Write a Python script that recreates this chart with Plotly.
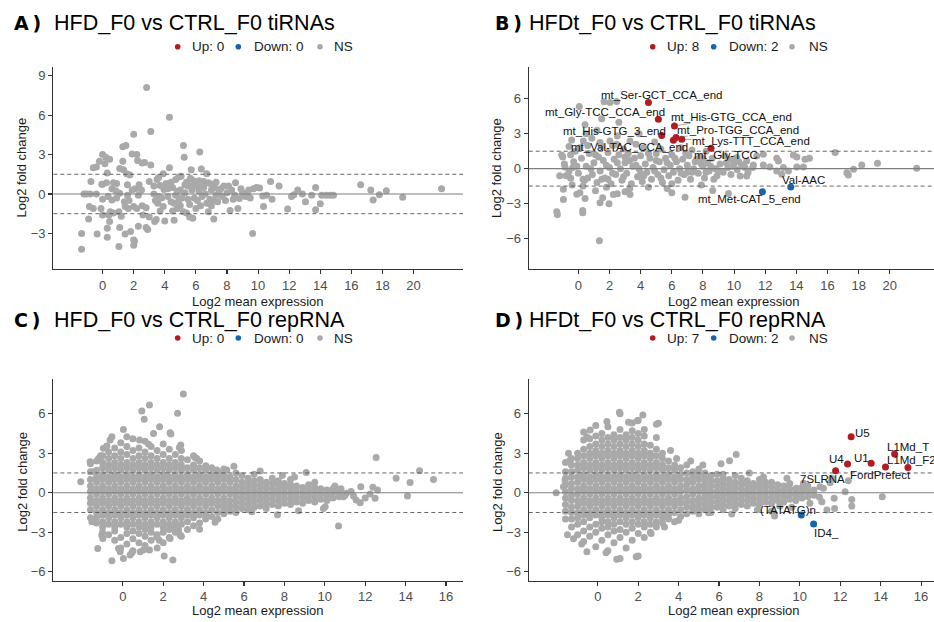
import plotly.graph_objects as go

W, H = 934, 622
UP_COL, DOWN_COL, NS_COL = "#B31B21", "#1465AC", "#A9A9A9"
SANS = "Liberation Sans, Arial, Helvetica, sans-serif"

# ---------------- Panel A : HFD_F0 vs CTRL_F0 tiRNAs (all NS) ----------------
a_ns_x = [-1.35, -1.35, -1.2, -1.05, -0.9, -0.85, -0.75, -0.6, -0.6, -0.4, -0.35, -0.8, -0.4, -0.2, -0.1, -0.05,
          0.0, 0.2, 0.15, 0.45, 0.3, 0.0, 0.25, 0.0, 0.0, 0.3, 0.3, 0.45, 0.4, 0.35, 0.6, 0.7, 0.9, 0.5, 0.7, 0.6, 0.85,
          1.05, 1.05, 1.1, 1.1, 1.1, 1.2, 1.3, 1.3, 1.35, 1.45, 1.5, 1.4, 1.45, 1.55, 1.6, 1.65, 1.75, 1.8, 1.9, 1.9, 1.6,
          2.0, 2.0, 2.0, 2.05, 2.0, 2.2, 2.25, 2.2, 2.3, 2.35, 2.3, 2.55, 2.55, 2.6, 2.7, 2.8, 2.8, 2.83, 2.9,
          3.0, 3.0, 3.1, 3.1, 3.3, 3.35, 3.45, 3.5, 3.6, 3.55, 3.7, 3.8, 3.9, 3.9, 4.0, 3.7, 3.4, 3.95,
          4.3, 4.3, 4.1, 4.2, 4.4, 4.5, 4.6, 4.5, 4.7, 4.8, 4.9, 4.9, 5.0, 5.05, 5.2, 5.25,
          5.2, 5.4, 5.3, 5.5, 5.6, 5.65, 5.7, 5.8, 5.85, 5.9, 5.6, 5.4, 4.7, 5.0, 5.75, 4.2,
          6.25, 6.35, 6.5, 6.8, 6.7, 6.8, 7.15, 6.1, 6.2, 6.4, 6.6, 6.9, 7.0, 7.2, 7.3, 7.4, 7.5, 7.7, 7.0, 6.3, 6.5, 7.8, 8.0, 6.0,
          8.2, 8.55, 8.7, 8.3, 8.5, 8.9, 9.0, 9.2, 9.4, 9.5, 9.65, 9.7, 9.9, 10.1, 10.3, 10.35, 10.55, 10.8, 10.9, 11.35, 8.8, 9.3,
          11.9, 12.15, 12.3, 12.55, 12.85, 13.05, 13.45, 13.7, 13.7, 14.0, 14.1, 14.4, 14.65, 14.85, 16.6, 17.25, 17.4, 17.8, 18.25, 19.3, 21.8,
          4.4, 4.6, 4.8, 5.1, 5.3, 5.5, 5.7, 6.0, 6.2, 6.4, 6.7, 6.9, 7.1, 7.3, 7.6, 7.9, 8.1, 8.4, 3.3, 3.6, 2.5, 2.1, 1.7, 0.9]
a_ns_y = [-3.0, -4.2, 0.0, 0.0, -1.9, -0.95, 0.95, -1.1, 2.0, 2.05, -3.05, 0.0, 0.0, 2.5, -1.1, 0.75,
          3.0, 2.8, 2.3, 2.65, 1.6, 0.75, 0.85, -0.4, -1.6, -3.3, -2.6, -2.1, -1.6, -0.2, -0.45, 0.85, 0.8, -1.35, -1.45, 0.4, 0.25,
          -1.35, -4.0, -2.55, 1.95, 0.05, -1.7, 2.5, 3.6, 1.85, -3.05, 3.7, -0.6, -0.95, 1.55, -0.1, -1.1, 1.45, -2.85, 3.05, 0.3, 0.7,
          4.55, -3.5, -3.9, -3.6, -0.95, 3.0, 2.55, -1.1, -2.45, 0.7, -0.1, 2.35, -0.9, -1.6, 2.4, -2.55, -1.05, 8.1, -2.7,
          -1.75, 0.95, 4.75, 2.2, 0.0, -2.1, -1.95, 1.1, 1.25, -0.7, 0.65, -0.3, 1.55, -0.95, -2.05, -1.3, -0.5, 0.35,
          5.85, 2.0, 0.8, -0.2, -0.6, -1.3, -2.0, 0.5, 1.1, 0.2, 1.3, -0.5, -0.9, 1.35, 3.7, 2.8,
          -1.35, -1.45, 0.1, 0.6, -1.75, 1.2, 1.85, -1.85, 1.0, -0.3, -0.8, 0.9, -0.1, 0.3, 0.3, 0.4,
          3.2, 1.9, 0.95, 0.85, 1.55, -1.35, -1.9, -0.5, 0.2, -0.2, 0.0, -0.4, 0.3, 0.5, -0.1, -0.6, 0.2, -0.2, -0.9, -0.9, 0.5, 0.6, 0.1, 0.6,
          -1.25, 0.85, -1.1, 0.3, -0.1, 0.4, 0.1, -0.2, 0.3, -0.3, -3.0, 0.4, 0.5, 0.45, -0.15, -0.95, -0.1, 0.95, -0.4, 0.6, -0.35, 0.05,
          -1.15, -0.2, -0.05, 0.3, 0.0, -0.6, -0.1, 0.5, -1.2, -0.75, -0.1, -0.1, -0.1, -0.1, 0.7, 0.3, -0.45, -0.05, 0.25, -0.25, 0.4,
          0.9, -0.7, -1.1, -0.3, 0.7, -0.4, 0.6, -1.1, 1.0, 0.6, -0.7, 0.8, -0.5, 0.9, 0.4, -0.5, 0.6, -0.4, 0.6, -0.2, 0.3, 0.4, -0.5, -0.3]

# ---------------- Panel B : HFDt_F0 vs CTRL_F0 tiRNAs ----------------
b_ns_x = [0.06, 1.65, 2.03, 2.46, 0.43, 1.5, 2.6, -0.43, 0.32, 0.86, 1.39, 2.03, 2.46, 3.32,
          -1.07, -0.86, -0.36, -0.64, -0.49, -0.96, -0.96, -1.39, -1.35, 0.28, 0.28, -0.1, 0.1, 0.43, 1.35, 1.39, 1.56, 1.97, 2.25, 2.5, 3.0, 3.32,
          6.0, 6.85, 8.63, 9.64, 10.39, 10.81, 9.96, 10.6, 11.24, 11.88, 12.3, 9.74, 10.17, 10.81, 12.74, 12.85, 13.17, 13.49, 12.74, 13.06,
          13.81, 14.03, 14.03, 14.45, 14.56, 14.84, 16.49, 17.24, 17.34, 17.67, 18.2, 19.21, 21.73, 11.46, 11.88,
          -0.9, -0.6, -0.3, 0.0, 0.2, 0.4, 0.5, 0.7, 0.9, 1.0, 1.2, 1.3, 1.4, 1.6, 1.7, 1.9, 2.0, 2.1, 2.3, 2.4,
          2.6, 2.7, 2.8, 3.0, 3.1, 3.2, 3.4, 3.5, 3.6, 3.8, 3.9, 4.0, 4.1, 4.3, 4.4, 4.6, 4.7, 4.8, 5.0, 5.1,
          5.2, 5.4, 5.5, 5.6, 5.8, 5.9, 6.0, 6.1, 6.3, 6.4, 6.5, 6.7, 6.8, 7.0, 7.1, 7.2, 7.4, 7.5, 7.7, 7.8,
          8.0, 8.1, 8.3, 8.4, 8.6, 8.8, 8.9, 9.1, 9.3, 9.4, 9.6, 9.8, 10.0, 10.2, 10.5, 10.9, 11.2,
          0.1, 0.6, 1.1, 1.5, 1.8, 2.2, 2.9, 3.3, 3.7, 4.2, 4.5, 5.3, 5.7, 6.6, 7.3, 7.9, 8.2, 0.3, -0.4, -0.2, 4.9, 2.5, 3.9, 1.2, 0.5, -0.6, -1.2, -1.0,
          -0.8, -0.5, -0.1, 0.3, 0.8, 1.1, 1.5, 1.8, 2.2, 2.5, 2.9, 3.3, 3.7, 4.2, 4.5, 4.9, 5.3, 5.7, 6.2, 6.6,
          6.9, 7.3, 7.6, 7.9, 8.2, 8.5, 8.7, 9.0, 9.5, 9.9, 10.3, 10.7, 0.6, 1.9, 3.0, 4.0, 5.0, 6.0, 7.0, 8.0]
b_ns_y = [5.35, 5.75, 5.7, 5.78, 3.77, 4.3, 4.0, 2.47, 2.39, 2.62, 2.24, 2.39, 2.1, 2.39,
          1.18, 0.14, 0.09, -0.63, -0.83, -1.78, -2.65, -3.71, -3.94, -3.6, -3.8, -2.2, -2.07, -2.56, -6.19, -2.94, -2.5, -3.02, -2.22, -2.16, -1.99, -2.22,
          -2.07, -2.45, -1.87, -2.13, -0.63, -0.63, 0.32, 0.32, 0.32, 0.32, 0.14, 0.81, 0.95, 0.66, 0.89, 0.66, 0.09, -0.2, -0.2, -0.49,
          1.18, 1.0, 0.14, 0.14, 0.81, 0.89, 1.38, -0.35, -0.55, -0.06, 0.32, 0.46, 0.03, 1.09, 1.24,
          0.4, -0.2, 0.6, -0.4, 0.9, -1.0, 0.2, 1.3, -0.5, 0.5, -1.2, 1.0, -0.2, 0.7, -0.8, 1.4, 0.1, -1.3, 0.8, -0.5,
          1.2, 0.0, -1.0, 0.5, -0.4, 1.3, -1.3, 0.2, 0.9, -0.7, 0.0, 1.1, -1.1, 0.4, -0.3, 0.9, -0.9, 0.1, 1.3, -0.5,
          0.6, -1.2, -0.1, 0.9, -0.6, 0.3, 1.2, -0.3, 0.6, -1.0, 0.0, 0.8, -0.5, 0.3, 1.1, -0.9, 0.0, 0.6, -0.4, 1.0,
          0.2, -0.8, 0.5, -0.2, 0.9, 0.0, -0.6, 0.4, -0.3, 1.1, 0.1, -0.5, 0.6, -0.1, 0.3, -0.3, 0.1,
          1.8, 2.0, -1.9, 1.9, -1.6, 2.0, 1.7, -1.7, 2.1, 1.8, -1.6, 1.7, -1.7, 1.8, 1.6, -1.4, 1.5, -1.5, -1.4, 1.5, 2.3, 2.8, 3.0, 3.3, 3.0, 1.9, -0.6, 1.0,
          -0.6, 1.2, 0.2, -0.9, 0.0, 1.2, -0.9, 0.3, -0.4, 0.5, -0.7, 0.7, 0.3, -0.6, 1.3, -0.2, -0.8, 0.5, 0.9, -0.4,
          1.3, -0.3, 0.8, 0.4, -0.3, 0.2, -0.9, -0.2, 0.5, 0.2, 0.6, 0.1, -0.8, -0.9, 1.0, -0.4, 0.7, -1.3, -0.3, 0.9]

b_up_names = ["mt_Ser-GCT_CCA_end", "mt_Gly-TCC_CCA_end", "mt_His-GTG_CCA_end", "mt_His-GTG_3_end",
              "mt_Val-TAC_CCA_end", "mt_Pro-TGG_CCA_end", "mt_Lys-TTT_CCA_end", "mt_Gly-TCC"]
b_up_x = [4.50, 5.14, 6.17, 5.35, 6.10, 6.27, 6.64, 8.52]
b_up_y = [5.70, 4.26, 3.68, 2.85, 2.45, 2.68, 2.53, 1.76]
b_down_names = ["mt_Met-CAT_5_end", "Val-AAC"]
b_down_x = [11.82, 13.64]
b_down_y = [-1.99, -1.58]

# ---------------- Panel C : HFD_F0 vs CTRL_F0 repRNA (all NS) ----------------
c_col_x = [-1.6, -1.3, -1.0, -0.7, -0.4, -0.1, 0.2, 0.5, 0.8, 1.1, 1.4, 1.7, 2.0, 2.3, 2.6, 2.9, 3.2, 3.5, 3.8, 4.1,
           4.4, 4.7, 5.0, 5.3, 5.6, 5.9, 6.2, 6.5, 6.8, 7.1, 7.4, 7.7, 8.0, 8.3, 8.6, 8.9, 9.2, 9.5, 9.8, 10.1, 10.4, 10.7, 11.0]
c_col_y = [
    [-1.9, -1.3, -0.8, -0.4, 0.1, 0.5, 1.0, 1.6, 2.2],
    [-2.3, -1.9, -1.5, -1.0, -0.6, -0.1, 0.3, 0.8, 1.2, 1.7, 2.4],
    [-3.0, -2.6, -2.2, -1.7, -1.3, -0.8, -0.4, 0.1, 0.5, 1.0, 1.4, 1.9, 2.3, 2.8],
    [-3.2, -2.4, -1.9, -1.5, -1.0, -0.6, -0.1, 0.3, 0.8, 1.2, 1.7, 2.1, 2.6, 3.1],
    [-3.6, -2.9, -2.6, -2.2, -1.7, -1.3, -0.8, -0.4, 0.1, 0.5, 1.0, 1.4, 1.9, 2.3, 2.8, 3.4],
    [-4.2, -3.4, -2.4, -1.9, -1.5, -1.0, -0.6, -0.1, 0.3, 0.8, 1.2, 1.7, 2.1, 2.6, 3.1, 3.8],
    [-3.9, -3.1, -2.6, -2.2, -1.7, -1.3, -0.8, -0.4, 0.1, 0.5, 1.0, 1.4, 1.9, 2.3, 2.9, 3.5],
    [-4.4, -3.5, -2.9, -2.4, -1.9, -1.5, -1.0, -0.6, -0.1, 0.3, 0.8, 1.2, 1.7, 2.1, 2.6, 3.2, 4.1],
    [-3.8, -3.1, -2.6, -2.2, -1.7, -1.3, -0.8, -0.4, 0.1, 0.5, 1.0, 1.4, 1.9, 2.3, 2.8, 3.4],
    [-4.0, -3.3, -2.8, -2.4, -1.9, -1.5, -1.0, -0.6, -0.1, 0.3, 0.8, 1.2, 1.7, 2.1, 2.6, 3.1, 3.9],
    [-3.6, -3.0, -2.6, -2.2, -1.7, -1.3, -0.8, -0.4, 0.1, 0.5, 1.0, 1.4, 1.9, 2.3, 2.8, 3.5],
    [-4.2, -3.2, -2.4, -1.9, -1.5, -1.0, -0.6, -0.1, 0.3, 0.8, 1.2, 1.7, 2.1, 2.6, 3.2],
    [-3.8, -3.0, -2.6, -2.2, -1.7, -1.3, -0.8, -0.4, 0.1, 0.5, 1.0, 1.4, 1.9, 2.3, 2.9, 3.7],
    [-3.4, -2.8, -2.4, -1.9, -1.5, -1.0, -0.6, -0.1, 0.3, 0.8, 1.2, 1.7, 2.1, 2.6, 3.3],
    [-3.0, -2.6, -2.2, -1.7, -1.3, -0.8, -0.4, 0.1, 0.5, 1.0, 1.4, 1.9, 2.3, 2.9],
    [-3.3, -2.4, -1.9, -1.5, -1.0, -0.6, -0.1, 0.3, 0.8, 1.2, 1.7, 2.1, 2.6, 3.2],
    [-2.8, -2.2, -1.7, -1.3, -0.8, -0.4, 0.1, 0.5, 1.0, 1.4, 1.9, 2.5],
    [-2.5, -1.9, -1.5, -1.0, -0.6, -0.1, 0.3, 0.8, 1.2, 1.7, 2.1, 2.8],
    [-2.3, -1.7, -1.3, -0.8, -0.4, 0.1, 0.5, 1.0, 1.4, 1.9, 2.4],
    [-2.0, -1.5, -1.0, -0.6, -0.1, 0.3, 0.8, 1.2, 1.7],
    [-1.8, -1.3, -0.8, -0.4, 0.1, 0.5, 1.0, 1.4, 1.9],
    [-2.0, -1.5, -1.0, -0.6, -0.1, 0.3, 0.8, 1.2, 1.6],
    [-1.6, -1.2, -0.8, -0.4, 0.1, 0.5, 1.0, 1.4, 1.8],
    [-1.4, -1.0, -0.6, -0.1, 0.3, 0.8, 1.2],
    [-1.5, -1.1, -0.7, -0.3, 0.1, 0.5, 1.0, 1.5],
    [-1.2, -0.8, -0.4, 0.0, 0.4, 0.8, 1.3],
    [-1.3, -0.9, -0.5, -0.1, 0.3, 0.7, 1.1],
    [-1.1, -0.7, -0.3, 0.1, 0.5, 0.9, 1.4],
    [-1.0, -0.6, -0.2, 0.2, 0.6, 1.0],
    [-1.2, -0.8, -0.4, 0.0, 0.4, 0.8],
    [-0.9, -0.5, -0.1, 0.3, 0.7, 1.1],
    [-1.0, -0.6, -0.2, 0.2, 0.6, 0.9],
    [-0.8, -0.4, 0.0, 0.4, 0.7],
    [-0.9, -0.5, -0.1, 0.3, 0.6, 1.0],
    [-0.7, -0.3, 0.1, 0.5],
    [-0.8, -0.4, 0.0, 0.4],
    [-0.6, -0.2, 0.2, 0.6],
    [-0.7, -0.3, 0.1, 0.4],
    [-0.5, -0.1, 0.3],
    [-0.6, -0.2, 0.2],
    [-0.4, 0.0, 0.3],
    [-0.3, 0.1],
    [-0.2],
]
c_out_x = [3.0, 1.32, 0.94, 1.06, 2.71, 1.82, 2.34, 2.38, 1.52, 0.03, 0.2, 0.83, 1.27, -0.54, -0.63, 2.87, 2.8, -0.96, -0.79,
           12.54, 14.69, 13.53, 14.22, 15.38, 11.78, 12.38, 12.61, 12.24, 12.49, 14.09, 11.42, 11.55, 11.75, 11.06, 10.92,
           10.68, 10.02, 9.93, 8.7, 7.66, 6.39, 6.8, 9.08, 5.15, 4.65, 4.11, 3.66, 3.58, 4.57, 4.13, 3.8, 2.84, 2.76, 2.48,
           2.05, 2.34, 1.68, 1.8, 1.32, 1.02, 0.86, 0.45, 0.36, 0.03, -0.21, -0.13, -0.54, -1.24, -0.99, -1.04, -1.53,
           -2.08, -1.45, -1.62, -1.2, -1.1, 10.5, 10.8, 9.5, 8.5, 7.9, 5.5, 12.0, 11.3]
c_out_y = [7.5, 6.66, 6.2, 5.57, 6.03, 5.0, 4.56, 4.46, 4.5, 4.8, 4.25, 4.0, 3.7, 4.25, 4.0, 3.62, 3.44, 3.37, 3.54,
           2.68, 1.67, 1.09, 0.78, 1.01, 0.46, 0.41, 0.2, -0.1, -0.43, -0.25, -0.25, -0.56, -0.76, -0.05, -0.3,
           -2.53, -1.06, -1.19, -1.37, -1.67, -1.44, 1.65, 1.54, 1.72, 1.72, 2.05, 2.6, 2.68, -2.25, -1.82, -2.78, -3.22, -2.84, -5.11,
           -4.81, -3.47, -3.35, -3.6, -4.35, -4.35, -4.48, -4.56, -4.73, -4.99, -4.23, -4.48, -5.16, -4.23, -3.47, -3.22, -2.2,
           0.84, 1.6, 2.35, 2.6, 2.8, 0.5, 0.3, 0.8, 1.2, 1.3, 2.0, -0.4, 0.1]

# ---------------- Panel D : HFDt_F0 vs CTRL_F0 repRNA ----------------
d_col_x = [-1.6, -1.3, -1.0, -0.7, -0.4, -0.1, 0.2, 0.5, 0.8, 1.1, 1.4, 1.7, 2.0, 2.3, 2.6, 2.9, 3.2, 3.5, 3.8, 4.1,
           4.4, 4.7, 5.0, 5.3, 5.6, 5.9, 6.2, 6.5, 6.8, 7.1, 7.4, 7.7, 8.0, 8.3, 8.6, 8.9, 9.2, 9.5, 9.8, 10.1, 10.4, 10.7]
d_col_y = [
    [-2.0, -1.4, -0.9, -0.4, 0.1, 0.6, 1.1, 1.6, 2.3],
    [-2.6, -2.0, -1.5, -1.1, -0.6, -0.2, 0.3, 0.7, 1.2, 1.6, 2.1, 2.6],
    [-3.2, -2.4, -1.9, -1.5, -1.0, -0.6, -0.1, 0.3, 0.8, 1.2, 1.7, 2.1, 2.6, 3.0],
    [-3.7, -2.9, -2.2, -1.7, -1.3, -0.8, -0.4, 0.1, 0.5, 1.0, 1.4, 1.9, 2.3, 2.8, 3.3, 4.0, 4.6],
    [-3.3, -2.6, -1.9, -1.5, -1.0, -0.6, -0.1, 0.3, 0.8, 1.2, 1.7, 2.1, 2.6, 3.0, 3.5, 4.1],
    [-4.1, -3.0, -2.4, -1.7, -1.3, -0.8, -0.4, 0.1, 0.5, 1.0, 1.4, 1.9, 2.3, 2.8, 3.2, 3.7, 4.3, 5.1],
    [-3.6, -2.7, -2.2, -1.9, -1.5, -1.0, -0.6, -0.1, 0.3, 0.8, 1.2, 1.7, 2.1, 2.6, 3.0, 3.5, 4.0, 4.5],
    [-4.4, -3.2, -2.6, -2.2, -1.7, -1.3, -0.8, -0.4, 0.1, 0.5, 1.0, 1.4, 1.9, 2.3, 2.8, 3.2, 3.7, 4.2, 5.0],
    [-3.8, -2.9, -2.4, -1.9, -1.5, -1.0, -0.6, -0.1, 0.3, 0.8, 1.2, 1.7, 2.1, 2.6, 3.0, 3.5, 4.0, 4.4],
    [-5.0, -3.4, -2.8, -2.2, -1.7, -1.3, -0.8, -0.4, 0.1, 0.5, 1.0, 1.4, 1.9, 2.3, 2.8, 3.2, 3.7, 4.2, 4.8, 6.0],
    [-4.2, -3.0, -2.4, -1.9, -1.5, -1.0, -0.6, -0.1, 0.3, 0.8, 1.2, 1.7, 2.1, 2.6, 3.0, 3.5, 4.0, 4.4],
    [-3.6, -2.7, -2.2, -1.7, -1.3, -0.8, -0.4, 0.1, 0.5, 1.0, 1.4, 1.9, 2.3, 2.8, 3.2, 3.7, 4.2, 4.7, 5.3],
    [-4.8, -3.1, -2.4, -1.9, -1.5, -1.0, -0.6, -0.1, 0.3, 0.8, 1.2, 1.7, 2.1, 2.6, 3.0, 3.5, 4.0, 4.5, 5.5],
    [-3.4, -2.6, -2.2, -1.7, -1.3, -0.8, -0.4, 0.1, 0.5, 1.0, 1.4, 1.9, 2.3, 2.8, 3.2, 3.7, 4.3, 4.8],
    [-3.0, -2.4, -1.9, -1.5, -1.0, -0.6, -0.1, 0.3, 0.8, 1.2, 1.7, 2.1, 2.6, 3.0, 3.6],
    [-2.6, -2.2, -1.7, -1.3, -0.8, -0.4, 0.1, 0.5, 1.0, 1.4, 1.9, 2.3, 2.8, 3.3, 4.2, 5.2],
    [-2.3, -1.9, -1.5, -1.0, -0.6, -0.1, 0.3, 0.8, 1.2, 1.7, 2.1, 2.6, 3.0],
    [-2.0, -1.7, -1.3, -0.8, -0.4, 0.1, 0.5, 1.0, 1.4, 1.9, 2.4],
    [-2.2, -1.5, -1.0, -0.6, -0.1, 0.3, 0.8, 1.2, 1.7, 2.1],
    [-1.8, -1.3, -0.8, -0.4, 0.1, 0.5, 1.0, 1.4, 1.9],
    [-1.6, -1.1, -0.7, -0.3, 0.2, 0.6, 1.0, 1.5, 2.1],
    [-1.4, -1.0, -0.6, -0.1, 0.3, 0.8, 1.2, 1.6],
    [-1.6, -1.2, -0.8, -0.4, 0.1, 0.5, 1.0, 1.4, 1.8],
    [-1.3, -0.9, -0.5, -0.1, 0.3, 0.7, 1.1, 1.5],
    [-1.5, -1.1, -0.7, -0.3, 0.1, 0.5, 0.9, 1.3],
    [-1.1, -0.7, -0.3, 0.1, 0.5, 0.9, 1.4],
    [-1.3, -0.9, -0.5, -0.1, 0.3, 0.7, 1.1, 1.4],
    [-1.0, -0.6, -0.2, 0.2, 0.6, 1.0],
    [-1.2, -0.8, -0.4, 0.0, 0.4, 0.8, 1.3],
    [-0.9, -0.5, -0.1, 0.3, 0.7, 1.1],
    [-1.0, -0.6, -0.2, 0.2, 0.6, 0.9],
    [-0.8, -0.4, 0.0, 0.4, 0.7],
    [-0.9, -0.5, -0.1, 0.3, 0.6, 1.0],
    [-0.7, -0.3, 0.1, 0.5, 0.8],
    [-0.8, -0.4, 0.0, 0.4, 0.8],
    [-0.6, -0.2, 0.2, 0.6],
    [-0.7, -0.3, 0.1, 0.5],
    [-0.5, -0.1, 0.3, 0.7],
    [-0.6, -0.2, 0.2],
    [-0.4, 0.0, 0.4],
    [-0.3, 0.1, 0.5],
    [-0.2, 0.2],
]
d_out_x = [1.07, 2.23, 3.0, 1.52, 1.96, 0.45, -0.55, -0.38, 6.85, 6.52, 6.1, 9.36, 9.82, 10.26, 10.18, 11.0, 11.17,
           10.97, 11.09, 11.7, 11.72, 11.34, 12.24, 12.57, 12.57, 14.08, 11.5, 11.58, 12.4, 8.75, 8.6, 7.9, 6.63, 5.48,
           2.64, 1.9, 0.94, 0.41, -0.54, -0.8, -1.2, -1.5, -2.06, -1.7, -1.62, -1.45, -1.37, 3.3, 4.0, 4.6, 5.2, 7.5,
           8.2, 9.0, 9.6, 10.5, 3.6, 3.9]
d_out_y = [6.1, 5.9, 5.27, 5.34, 5.47, 5.4, 4.25, 4.76, 2.91, 2.43, 2.2, 1.09, 0.33, 0.33, 0.71, 0.46, 0.33,
           -0.35, -0.68, -0.43, -1.19, -1.32, 0.08, -0.51, -1.01, -0.3, 0.76, 1.09, 0.9, -1.77, -1.4, -1.3, -1.62, -1.52,
           -3.09, -4.86, -5.06, -4.56, -4.48, -3.9, -3.5, -3.2, 0.0, 0.46, 0.96, 2.99, 2.48, -2.6, -2.1, 2.4, 2.1, 1.5,
           1.2, -1.0, -1.1, -0.8, 3.2, 2.6]

d_up_names = ["U5", "L1Md_T", "U4", "U1", "L1Md_F2", "FordPrefect", "7SLRNA"]
d_up_x = [12.54, 14.69, 12.36, 13.53, 15.35, 14.24, 11.77]
d_up_y = [4.25, 2.94, 2.18, 2.23, 1.92, 1.95, 1.67]
d_down_names = ["(TATATG)n", "ID4_"]
d_down_x = [10.07, 10.68]
d_down_y = [-1.70, -2.38]

titles = ["HFD_F0 vs CTRL_F0 tiRNAs", "HFDt_F0 vs CTRL_F0 tiRNAs",
          "HFD_F0 vs CTRL_F0 repRNA", "HFDt_F0 vs CTRL_F0 repRNA"]
tags = ["A", "B", "C", "D"]
up_counts = [0, 8, 0, 7]
down_counts = [0, 2, 0, 2]
tick_x_top = [0, 2, 4, 6, 8, 10, 12, 14, 16, 18, 20]
tick_x_bottom = [0, 2, 4, 6, 8, 10, 12, 14, 16]
tick_y_a = [-3, 0, 3, 6, 9]
tick_y_other = [-6, -3, 0, 3, 6]
fc_cut = 1.5


def flat(cols_x, cols_y):
    xs, ys = [], []
    for x, col in zip(cols_x, cols_y):
        for y in col:
            xs.append(x)
            ys.append(y)
    return xs, ys


c_core_x, c_core_y = flat(c_col_x, c_col_y)
d_core_x, d_core_y = flat(d_col_x, d_col_y)


def px(v):
    return v / W


def py(v):
    return 1 - v / H


fig = go.Figure()


def pts(xs, ys, col, xa, ya):
    fig.add_trace(go.Scatter(x=xs, y=ys, mode="markers", xaxis=xa, yaxis=ya,
                             marker=dict(color=col, size=7, line=dict(width=0)),
                             showlegend=False, hoverinfo="skip"))


pts(a_ns_x, a_ns_y, NS_COL, "x", "y")
pts(b_ns_x, b_ns_y, NS_COL, "x2", "y2")
pts(b_up_x, b_up_y, UP_COL, "x2", "y2")
pts(b_down_x, b_down_y, DOWN_COL, "x2", "y2")
pts(c_core_x + c_out_x, c_core_y + c_out_y, NS_COL, "x3", "y3")
pts(d_core_x + d_out_x, d_core_y + d_out_y, NS_COL, "x4", "y4")
pts(d_up_x, d_up_y, UP_COL, "x4", "y4")
pts(d_down_x, d_down_y, DOWN_COL, "x4", "y4")

# panel geometry (pixels)
left_x = [(53.3, 463.0), (528.7, 934.0)]
top_y = [(66.7, 269.0), (379.3, 580.7)]
xranges = [[-3.17, 23.18], [-3.19, 22.84], [-3.44, 16.84], [-3.42, 16.64]]
yranges = [[-5.71, 9.69], [-8.63, 8.77], [-6.68, 8.61], [-6.68, 8.61]]
xticks = [tick_x_top, tick_x_top, tick_x_bottom, tick_x_bottom]
yticks = [tick_y_a, tick_y_other, tick_y_other, tick_y_other]

ax_common = dict(showline=True, linecolor="#333333", linewidth=1.1, ticks="outside", ticklen=4,
                 tickcolor="#333333", tickwidth=1.1, showgrid=False, zeroline=False, automargin=False,
                 tickfont=dict(family=SANS, size=13, color="#4D4D4D"), fixedrange=True)

layout_axes = {}
shapes = []
annos = []
for i in range(4):
    col, row = i % 2, i // 2
    x0p, x1p = left_x[col]
    y0p, y1p = top_y[row]
    sx = "" if i == 0 else str(i + 1)
    layout_axes["xaxis" + sx] = dict(ax_common, domain=[px(x0p), px(x1p)], range=xranges[i],
                                     tickvals=xticks[i], anchor="y" + sx)
    layout_axes["yaxis" + sx] = dict(ax_common, domain=[py(y1p), py(y0p)], range=yranges[i],
                                     tickvals=yticks[i], anchor="x" + sx)
    # reference lines
    shapes.append(dict(type="line", xref="x%s domain" % sx, yref="y" + sx, x0=0, x1=1, y0=0, y1=0,
                       line=dict(color="#7F7F7F", width=1.1)))
    for v in (fc_cut, -fc_cut):
        shapes.append(dict(type="line", xref="x%s domain" % sx, yref="y" + sx, x0=0, x1=1, y0=v, y1=v,
                           line=dict(color="#555555", width=0.9, dash="4px,3px")))
    # axis titles
    title_cx = 258.2 if col == 0 else 733.5
    annos.append(dict(text="Log2 mean expression", xref="paper", yref="paper",
                      x=px(title_cx), y=py(y1p + (32.5 if row == 0 else 29.5)),
                      showarrow=False, font=dict(family=SANS, size=13, color="#1A1A1A"),
                      xanchor="center", yanchor="middle"))
    annos.append(dict(text="Log2 fold change", xref="paper", yref="paper",
                      x=px(x0p - 31.6), y=py((y0p + y1p) / 2 + (2 if row == 1 else 0)),
                      textangle=-90, showarrow=False, font=dict(family=SANS, size=13, color="#1A1A1A"),
                      xanchor="center", yanchor="middle"))

# titles and mini legends
title_y = [22.5, 319.5]
tag_x = [13.0, 494.0]
title_x = [53.0, 527.5]
leg_y = [46.7, 338.0]
leg_dots = [(177.7, 238.3, 320.0), (652.7, 713.7, 792.0)]
leg_text = [(191.7, 253.3, 333.3), (666.3, 728.7, 808.7)]
for i in range(4):
    col, row = i % 2, i // 2
    annos.append(dict(text="<b>%s\u2009)</b>" % tags[i], xref="paper", yref="paper", x=px(tag_x[col]),
                      y=py(title_y[row]), xanchor="left", yanchor="middle", showarrow=False, borderpad=0,
                      font=dict(family="DejaVu Sans, sans-serif", size=19, color="#000000")))
    annos.append(dict(text=titles[i], xref="paper", yref="paper", x=px(title_x[col]), y=py(title_y[row]),
                      xanchor="left", yanchor="middle", showarrow=False, borderpad=0,
                      font=dict(family=SANS, size=21.5, color="#000000")))
    labels = ["Up: %d" % up_counts[i], "Down: %d" % down_counts[i], "NS"]
    for cx, tx, lab, c in zip(leg_dots[col], leg_text[col], labels, (UP_COL, DOWN_COL, NS_COL)):
        r = 2.8
        shapes.append(dict(type="circle", xref="paper", yref="paper", x0=px(cx - r), x1=px(cx + r),
                           y0=py(leg_y[row] + r), y1=py(leg_y[row] - r), fillcolor=c, line=dict(width=0)))
        annos.append(dict(text=lab, xref="paper", yref="paper", x=px(tx - 0.5), y=py(leg_y[row]),
                          xanchor="left", yanchor="middle", showarrow=False, borderpad=0,
                          font=dict(family=SANS, size=13.5, color="#1A1A1A")))

# point labels (ggrepel style)
b_offsets = {"mt_Ser-GCT_CCA_end": (13, -7), "mt_Gly-TCC_CCA_end": (-53, -7), "mt_His-GTG_CCA_end": (57, -9),
             "mt_His-GTG_3_end": (-47, -5), "mt_Val-TAC_CCA_end": (-44, 7), "mt_Pro-TGG_CCA_end": (62, -8),
             "mt_Lys-TTT_CCA_end": (69, 2), "mt_Gly-TCC": (15, 7), "mt_Met-CAT_5_end": (-13, 7), "Val-AAC": (13, -7)}
d_offsets = {"U5": (11, -4), "L1Md_T": (13, -7), "U4": (-11, -5), "U1": (-10, -5), "L1Md_F2": (4, -7),
             "FordPrefect": (-5, 8), "7SLRNA": (-13, 8), "(TATATG)n": (-13, -5), "ID4_": (13, 9)}


def label(names, xs, ys, offs, xa, ya):
    for n, x, y in zip(names, xs, ys):
        dx, dy = offs[n]
        annos.append(dict(text=n, x=x, y=y, xref=xa, yref=ya, ax=dx, ay=dy, showarrow=True,
                          arrowhead=0, arrowwidth=0.6, arrowcolor="#666666", standoff=3,
                          font=dict(family=SANS, size=11.5, color="#111111"), borderpad=0))


label(b_up_names, b_up_x, b_up_y, b_offsets, "x2", "y2")
label(b_down_names, b_down_x, b_down_y, b_offsets, "x2", "y2")
label(d_up_names, d_up_x, d_up_y, d_offsets, "x4", "y4")
label(d_down_names, d_down_x, d_down_y, d_offsets, "x4", "y4")

fig.update_layout(width=W, height=H, margin=dict(l=0, r=0, t=0, b=0, autoexpand=False), paper_bgcolor="white",
                  plot_bgcolor="white", showlegend=False, shapes=shapes, annotations=annos,
                  font=dict(family=SANS), **layout_axes)

# remove the browser's default 8px body margin so the figure starts at the page corner
fig.write_html("out.html", config={"displayModeBar": False, "staticPlot": True},
               post_script=["document.body.style.margin='0px';"])
